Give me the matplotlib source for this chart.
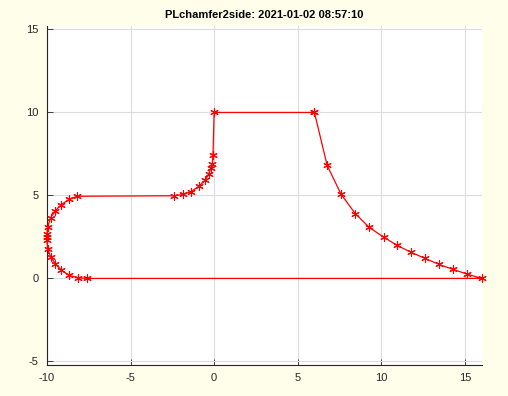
import matplotlib
matplotlib.use("Agg")
import matplotlib.pyplot as plt

# path vertices (all marked with '*')
xs = [6.0, 6.76, 7.6, 8.44, 9.28, 10.14, 10.95, 11.79, 12.63, 13.46, 14.3, 15.14, 16.0,
      -7.63, -8.16, -8.67, -9.14, -9.5, -9.78, -9.96, -10.0, -10.0, -10.0, -9.96, -9.78, -9.5, -9.14, -8.67, -8.19,
      -2.39, -1.85, -1.39, -0.93, -0.55, -0.31, -0.21, -0.11, -0.07,
      0.0, 6.0]
ys = [10.0, 6.81, 5.06, 3.91, 3.07, 2.49, 1.99, 1.57, 1.2, 0.84, 0.54, 0.26, 0.0,
      0.0, 0.04, 0.18, 0.5, 0.88, 1.3, 1.78, 2.3, 2.5, 2.7, 3.1, 3.67, 4.07, 4.45, 4.76, 4.95,
      4.98, 5.06, 5.22, 5.54, 5.9, 6.32, 6.63, 6.87, 7.41,
      10.0, 10.0]

title = "PLchamfer2side: 2021-01-02 08:57:10"
xticks = [-10, -5, 0, 5, 10, 15]
yticks = [-5, 0, 5, 10, 15]

plt.rcParams['font.family'] = ['Liberation Sans', 'DejaVu Sans']
plt.rcParams['axes.unicode_minus'] = False

fig = plt.figure(figsize=(5.08, 3.96), dpi=100, facecolor='#fffeea')
ax = fig.add_axes([0.0925, 0.079, 0.8555, 0.855])
ax.set_facecolor('white')
ax.plot(xs, ys, color='#ff0000', lw=0.9, marker=(6, 2, 0), ms=6, mew=0.8,
        clip_on=False, zorder=3)
ax.set_xlim(-10, 16)
ax.set_ylim(-5.2, 15.2)
ax.set_xticks(xticks)
ax.set_yticks(yticks)
ax.grid(True, color='#dcdcdc', lw=0.8)
ax.set_axisbelow(True)
for s in ['top', 'right']:
    ax.spines[s].set_visible(False)
for s in ['left', 'bottom']:
    ax.spines[s].set_color('#262626')
    ax.spines[s].set_linewidth(0.8)
ax.tick_params(direction='in', length=4, width=0.6, colors='#262626', labelsize=8, pad=6)
ax.set_title(title, fontsize=8, fontweight='bold', pad=6)
fig.savefig('out.png', dpi=100, facecolor=fig.get_facecolor())
